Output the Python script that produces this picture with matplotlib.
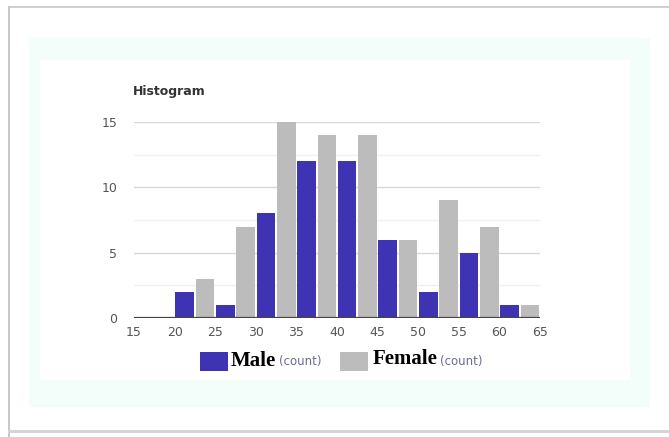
import numpy as np
import matplotlib
matplotlib.use("Agg")
import matplotlib.pyplot as plt
from matplotlib.patches import Rectangle

# histogram bins (age) and counts
bin_edges = [20, 25, 30, 35, 40, 45, 50, 55, 60]
male = [2, 1, 8, 12, 12, 6, 2, 5, 1]
female = [3, 7, 15, 14, 14, 6, 9, 7, 1]
x_ticks = [15, 20, 25, 30, 35, 40, 45, 50, 55, 60, 65]
y_ticks = [0, 5, 10, 15]

blue = "#3d33b3"
grey = "#bcbcbc"

fig = plt.figure(figsize=(6.69, 4.37), dpi=100)
fig.patch.set_facecolor("white")

W, H = 669.0, 437.0
def box(x0, y0, x1, y1, **kw):
    # pixel coords (top-left origin) -> figure fraction
    fig.patches.append(Rectangle((x0 / W, 1 - y1 / H), (x1 - x0) / W, (y1 - y0) / H,
                                 transform=fig.transFigure, zorder=-5, **kw))

# outer frame lines
box(8, 6, 669, 8, facecolor="#d0d0d0", edgecolor="none")
box(8, 6, 10, 437, facecolor="#c8c8c8", edgecolor="none")
box(8, 430, 669, 433, facecolor="#d4d4d4", edgecolor="none")
# mint panel and white inner panel
box(29, 38, 650, 407, facecolor="#f3fdf9", edgecolor="none")
box(40, 60, 630, 380, facecolor="white", edgecolor="none")

ax = fig.add_axes([134 / W, 1 - 318 / H, (540 - 134) / W, (318 - 122) / H])
ax.set_zorder(5)
ax.set_facecolor("none")

edges = np.array(bin_edges, dtype=float)
ax.bar(edges + 0.1, male, width=2.3, align="edge", color=blue, zorder=3)
ax.bar(edges + 2.6, female, width=2.3, align="edge", color=grey, zorder=3)

ax.set_xlim(15, 65)
ax.set_ylim(0, 15)
ax.set_xticks(x_ticks)
ax.set_yticks(y_ticks)
for v in [2.5, 7.5, 12.5]:
    ax.axhline(v, color="#f0f0f0", lw=1, zorder=1)
for v in [5, 10, 15]:
    ax.axhline(v, color="#d8d8d8", lw=1, zorder=1)
ax.axhline(0, color="#444444", lw=1.6, zorder=4)

for s in ax.spines.values():
    s.set_visible(False)
ax.tick_params(length=0, labelsize=9, labelcolor="#555555", pad=6)
ax.tick_params(axis="y", pad=12)

fig.text(133 / W, 1 - 92 / H, "Histogram", fontsize=9, fontweight="bold",
         color="#333333", va="center", ha="left")

# legend
box(200, 352, 228, 371, facecolor=blue, edgecolor="none")
box(340, 352, 368, 371, facecolor=grey, edgecolor="none")
fig.text(231 / W, 1 - 361 / H, "Male", fontsize=15, fontweight="bold",
         family="Liberation Serif", color="black", va="center", ha="left")
fig.text(279 / W, 1 - 362 / H, "(count)", fontsize=8.5, color="#6a6a9a",
         va="center", ha="left")
fig.text(373 / W, 1 - 359 / H, "Female", fontsize=15, fontweight="bold",
         family="Liberation Serif", color="black", va="center", ha="left")
fig.text(440 / W, 1 - 362 / H, "(count)", fontsize=8.5, color="#6a6a9a",
         va="center", ha="left")

fig.savefig("out.png", dpi=100)
